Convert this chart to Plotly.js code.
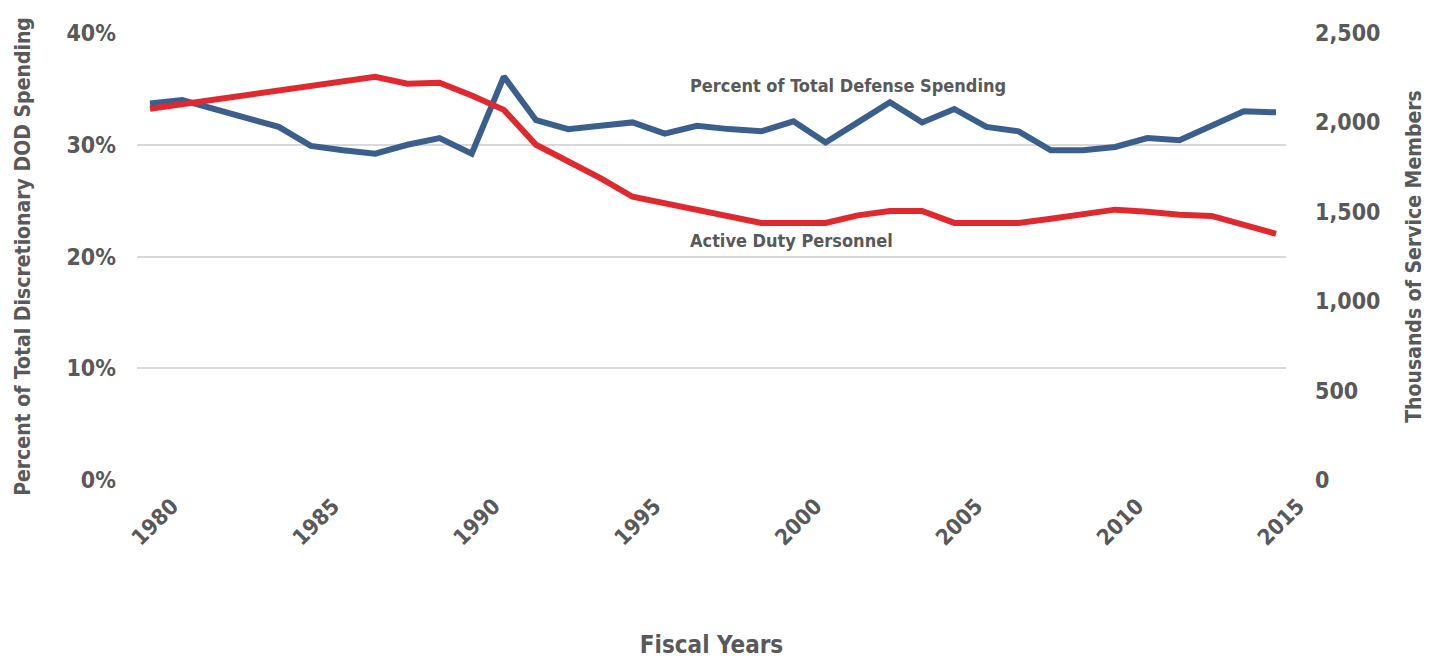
<!DOCTYPE html>
<html>
<head>
<meta charset="utf-8">
<script src="https://cdn.plot.ly/plotly-3.0.1.min.js"></script>
<style>
  html, body { margin: 0; padding: 0; background: #ffffff; }
  #chart { width: 1440px; height: 659px; }
  #chart text { font-stretch: condensed !important; }
</style>
</head>
<body>
<div id="chart"></div>
<script>
// Fiscal years
const years = [1980,1981,1982,1983,1984,1985,1986,1987,1988,1989,
               1990,1991,1992,1993,1994,1995,1996,1997,1998,1999,
               2000,2001,2002,2003,2004,2005,2006,2007,2008,2009,
               2010,2011,2012,2013,2014,2015];

// Percent of total defense spending (left axis, %)
const pctDefenseSpending = [33.7,34.0,null,null,31.6,29.9,29.5,29.2,30.0,30.6,
                            29.2,36.1,32.2,31.4,31.7,32.0,31.0,31.7,31.4,31.2,
                            32.1,30.2,32.0,33.8,32.0,33.2,31.6,31.2,29.5,29.5,
                            29.8,30.6,30.4,31.7,33.0,32.9];

// Active duty personnel (right axis, thousands of service members)
const activeDutyPersonnel = [2076,null,null,null,null,null,null,2255,2216,2222,
                             2150,2070,1875,1785,1688,1584,1547,1511,1473,1438,
                             1438,1438,1480,1505,1505,1438,1438,1438,1461,1485,
                             1512,1500,1483,1477,1424,1377];

const leftTicks = [0,10,20,30,40];
const leftTickText = ['0%','10%','20%','30%','40%'];
const rightTicks = [0,500,1000,1500,2000,2500];
const xTicks = [1980,1985,1990,1995,2000,2005,2010,2015];

const seriesNames = ['Percent of Total Defense Spending','Active Duty Personnel'];

const FONT = '"DejaVu Sans Condensed", "DejaVu Sans", sans-serif';
const GREY = '#595959';

const traces = [
  {
    x: years, y: pctDefenseSpending, name: seriesNames[0],
    type: 'scatter', mode: 'lines', connectgaps: true,
    line: {color: '#3B5F8C', width: 6, shape: 'linear'},
    yaxis: 'y', hoverinfo: 'x+y'
  },
  {
    x: years, y: activeDutyPersonnel, name: seriesNames[1],
    type: 'scatter', mode: 'lines', connectgaps: true,
    line: {color: '#E0292E', width: 6, shape: 'linear'},
    yaxis: 'y2', hoverinfo: 'x+y'
  }
];

const layout = {
  width: 1440, height: 659,
  paper_bgcolor: '#ffffff', plot_bgcolor: '#ffffff',
  margin: {l: 137, r: 154, t: 33, b: 179, pad: 0},
  showlegend: false,
  font: {family: FONT, color: GREY, size: 22},
  xaxis: {
    range: [1979.596, 2015.311],
    tickmode: 'array', tickvals: xTicks, ticktext: xTicks.map(String),
    tickangle: -45, ticks: '', showgrid: false, zeroline: false, showline: false,
    tickfont: {family: FONT, size: 22, color: GREY, weight: 'bold'},
    ticklabelshift: 22, ticklabelstandoff: 8,
    title: {text: 'Fiscal Years', font: {family: FONT, size: 24, color: GREY, weight: 'bold'}, standoff: 86},
    automargin: false
  },
  yaxis: {
    range: [0, 40], tickmode: 'array', tickvals: leftTicks, ticktext: leftTickText,
    showgrid: true, gridcolor: '#D9D9D9', gridwidth: 2,
    zeroline: false, showline: false, ticks: '',
    tickfont: {family: FONT, size: 23, color: GREY, weight: 'bold'},
    ticklabelstandoff: 20,
    title: {text: 'Percent of Total Discretionary DOD Spending', font: {family: FONT, size: 21, color: GREY, weight: 'bold'}, standoff: 30},
    automargin: false
  },
  yaxis2: {
    range: [0, 2500], overlaying: 'y', side: 'right',
    tickmode: 'array', tickvals: rightTicks, tickformat: ',',
    showgrid: false, zeroline: false, showline: false, ticks: '',
    tickfont: {family: FONT, size: 23, color: GREY, weight: 'bold'},
    ticklabelstandoff: 28,
    title: {text: 'Thousands of Service Members', font: {family: FONT, size: 21, color: GREY, weight: 'bold'}, standoff: 26},
    automargin: false
  },
  annotations: [
    {xref: 'x', yref: 'y', x: 2001.7, y: 35.3, text: seriesNames[0], showarrow: false,
     font: {family: FONT, size: 18, color: GREY, weight: 'bold'}, xanchor: 'center', yanchor: 'middle'},
    {xref: 'x', yref: 'y', x: 1999.95, y: 21.4, text: seriesNames[1], showarrow: false,
     font: {family: FONT, size: 18, color: GREY, weight: 'bold'}, xanchor: 'center', yanchor: 'middle'}
  ]
};

Plotly.newPlot('chart', traces, layout, {staticPlot: true, displayModeBar: false});
</script>
</body>
</html>
